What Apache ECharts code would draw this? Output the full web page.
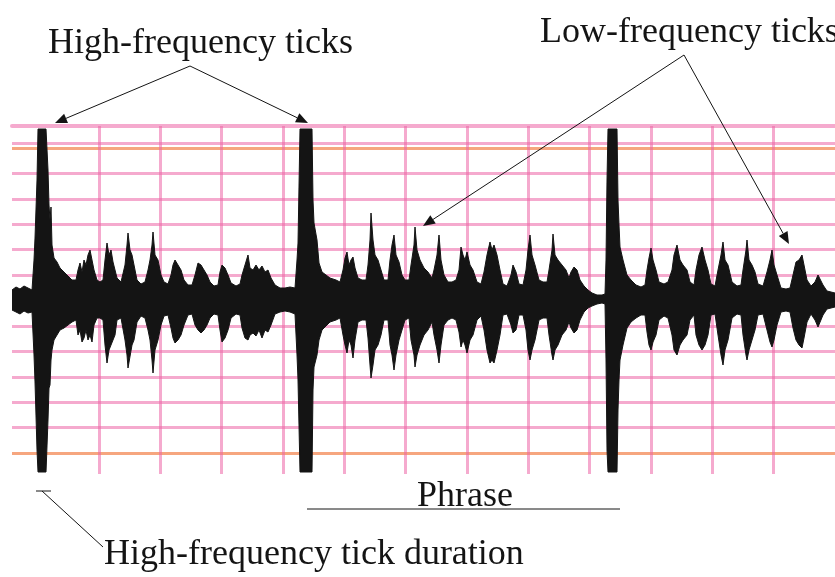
<!DOCTYPE html>
<html>
<head>
<meta charset="utf-8">
<script src="https://cdn.jsdelivr.net/npm/echarts@6/dist/echarts.min.js"></script>
<style>html,body{margin:0;padding:0;background:#fff}#c{width:835px;height:577px}</style>
</head>
<body>
<div id="c"></div>
<script>
// time (arbitrary units along the recording), upper and lower envelope of the waveform
const timeUnits = [12,16,20,24,28,32,34,35,37,38,46,48,49,50,51,52,54,57,60,64,68,72,76,78,80,82,84,86,88,90,92,94,97,100,103,105,107,109,111,113,115,117,121,125,127,128,130,132,134,137,141,145,148,150,152,153,155,158,161,164,168,171,173,175,178,181,184,188,192,195,198,201,204,207,210,214,218,220,222,225,228,231,236,240,242,245,248,250,253,256,259,262,265,268,271,275,280,285,290,295,297,298,300,312,313,314,317,319,322,326,330,336,340,343,345,347,349,351,353,355,358,362,366,368,370,371,373,375,378,381,384,388,390,392,394,396,399,402,405,409,411,414,415,417,420,424,428,432,434,437,439,441,444,448,452,456,459,461,463,465,467,470,473,477,481,484,487,490,492,494,497,500,503,507,511,513,516,519,523,526,528,530,532,535,539,543,547,549,552,553,555,558,562,566,569,571,574,577,580,584,588,592,597,602,605,606,607,608,617,618,619,620,623,627,631,636,641,645,647,649,651,653,656,659,664,668,672,674,677,680,683,687,690,694,696,699,702,705,708,711,715,718,721,723,725,728,732,737,741,743,746,747,749,752,755,758,763,767,770,772,774,777,781,786,790,793,796,799,802,804,807,811,815,818,820,823,827,831,835];
const upperEnv = [10,13,11,14,12,10,40,62,120,171,171,130,95,80,93,55,42,38,32,28,24,20,20,30,37,28,40,35,45,50,40,30,20,18,20,40,57,45,50,38,30,22,18,35,55,67,50,45,35,20,16,18,30,40,55,68,45,40,25,18,16,25,35,40,35,30,20,15,15,25,37,35,30,25,18,14,15,28,35,32,25,17,14,16,25,35,45,32,30,35,30,34,28,30,22,15,12,12,13,12,40,57,171,171,100,77,60,37,28,25,22,20,18,30,42,48,35,40,43,32,22,20,20,35,60,87,60,45,40,30,20,20,40,55,65,45,38,25,20,20,35,55,73,50,40,32,28,22,30,45,65,40,25,18,18,20,30,53,45,40,48,35,30,18,16,28,45,58,50,55,45,30,16,14,25,35,28,16,15,30,50,65,45,35,20,18,18,30,50,66,45,40,35,30,22,28,33,30,20,14,10,7,5,5,6,40,120,171,171,100,75,53,40,25,20,15,13,15,30,42,52,40,30,18,16,18,30,45,55,40,35,30,18,15,30,45,53,40,30,16,14,30,45,58,40,35,18,14,15,30,50,60,40,35,28,16,14,28,40,50,35,25,12,11,12,25,38,40,45,35,20,14,18,25,25,15,9,8,7];
const lowerEnv = [-10,-12,-14,-11,-13,-12,-55,-82,-150,-172,-172,-120,-88,-85,-60,-50,-40,-35,-30,-28,-25,-22,-20,-35,-30,-42,-38,-30,-40,-35,-42,-25,-18,-18,-20,-45,-63,-50,-45,-40,-35,-20,-18,-40,-55,-68,-70,-45,-40,-22,-16,-18,-30,-40,-60,-73,-50,-40,-25,-16,-15,-28,-38,-43,-40,-35,-25,-15,-14,-25,-30,-33,-30,-25,-18,-14,-15,-30,-42,-38,-30,-18,-14,-15,-28,-38,-40,-35,-33,-36,-30,-38,-30,-32,-25,-14,-12,-11,-12,-14,-55,-80,-172,-172,-90,-67,-55,-40,-30,-26,-22,-20,-18,-35,-45,-53,-40,-45,-58,-40,-22,-20,-20,-38,-65,-78,-65,-50,-45,-35,-20,-20,-45,-55,-70,-55,-40,-30,-20,-18,-40,-55,-67,-55,-45,-35,-30,-22,-35,-50,-63,-45,-25,-20,-18,-20,-32,-47,-40,-45,-53,-40,-35,-20,-16,-30,-50,-63,-60,-63,-50,-35,-15,-14,-25,-33,-30,-15,-15,-30,-50,-60,-50,-40,-20,-18,-18,-35,-55,-60,-50,-45,-35,-30,-22,-28,-33,-30,-20,-12,-8,-6,-4,-3,-4,-60,-150,-172,-172,-110,-80,-60,-45,-28,-22,-18,-15,-15,-32,-45,-50,-42,-35,-20,-16,-18,-35,-50,-55,-45,-40,-35,-20,-15,-35,-45,-50,-45,-35,-15,-14,-35,-55,-65,-50,-40,-18,-14,-15,-35,-55,-60,-50,-40,-30,-15,-14,-30,-42,-47,-40,-25,-12,-11,-12,-28,-40,-45,-48,-38,-22,-14,-20,-27,-25,-15,-9,-8,-7];
// chart-paper ruling (grid divisions)
const paperColumns = 12;
const paperRows = [-6, 6];

const upperData = timeUnits.map((t, i) => [t, upperEnv[i]]);
const lowerData = timeUnits.map((t, i) => [t, lowerEnv[i]]);

const PINK = 'rgba(236,100,165,0.55)';
const ORANGE = 'rgba(245,150,105,0.85)';
const INK = '#141414';
const FONT = '36px "Liberation Serif", "Times New Roman", serif';

function arrow(x1, y1, x2, y2) {
  const ang = Math.atan2(y2 - y1, x2 - x1);
  const L = 12, W = 5;
  const bx = x2 - L * Math.cos(ang), by = y2 - L * Math.sin(ang);
  const px = -Math.sin(ang) * W, py = Math.cos(ang) * W;
  return [
    {type: 'line', shape: {x1, y1, x2: bx, y2: by}, style: {stroke: INK, lineWidth: 1}, z: 100},
    {type: 'polygon', shape: {points: [[x2, y2], [bx + px, by + py], [bx - px, by - py]]}, style: {fill: INK}, z: 100}
  ];
}
function txt(s, x, y) {
  return {type: 'text', x, y, style: {text: s, font: FONT, fill: INK, textAlign: 'left', textVerticalAlign: 'middle'}, z: 100};
}

const chart = echarts.init(document.getElementById('c'), null, {renderer: 'canvas'});
chart.setOption({
  animation: false,
  backgroundColor: '#fff',
  grid: [
    {left: 12, right: 0, top: 126, bottom: 103},
    {left: 99, right: -1.3, top: 126, bottom: 103},
    {left: 12, right: 0, top: 148, bottom: 124}
  ],
  xAxis: [
    {gridIndex: 0, type: 'value', min: 12, max: 835, position: 'top', axisLine: {show: true, onZero: false, lineStyle: {color: PINK, width: 4}}, axisTick: {show: false}, axisLabel: {show: false}, splitLine: {show: false}},
    {gridIndex: 1, type: 'value', min: 0, max: paperColumns, interval: 1, axisLine: {show: false}, axisTick: {show: false}, axisLabel: {show: false},
      splitLine: {show: true, showMaxLine: false, lineStyle: {color: PINK, width: 3}}},
    {gridIndex: 2, type: 'value', min: 0, max: 1, show: false}
  ],
  yAxis: [
    {gridIndex: 0, type: 'value', min: -174, max: 174, show: false},
    {gridIndex: 1, type: 'value', min: 0, max: 1, show: false},
    {gridIndex: 2, type: 'value', min: paperRows[0], max: paperRows[1], interval: 1, axisLine: {show: false}, axisTick: {show: false}, axisLabel: {show: false},
      splitLine: {show: true, lineStyle: {width: 3, color: [ORANGE, PINK, PINK, PINK, PINK, PINK, PINK, PINK, PINK, PINK, PINK, PINK]}}}
  ],
  series: [
    {type: 'line', xAxisIndex: 0, yAxisIndex: 0, data: upperData, symbol: 'none', silent: true,
      lineStyle: {color: INK, width: 1}, areaStyle: {color: INK, opacity: 1},
      markLine: {silent: true, symbol: 'none', label: {show: false}, lineStyle: {color: PINK, width: 3, type: 'solid'}, data: [{yAxis: 157}], z: 0}},
    {type: 'line', xAxisIndex: 0, yAxisIndex: 0, data: lowerData, symbol: 'none', silent: true,
      lineStyle: {color: INK, width: 1}, areaStyle: {color: INK, opacity: 1}}
  ],
  graphic: [
    txt('High-frequency ticks', 48, 44),
    txt('Low-frequency ticks', 540, 33),
    txt('Phrase', 417, 497),
    txt('High-frequency tick duration', 104, 555),
    ...arrow(190, 66, 55, 123),
    ...arrow(190, 66, 308, 123),
    ...arrow(684, 55, 423, 226),
    ...arrow(684, 55, 789, 244),
    {type: 'line', shape: {x1: 307, y1: 509, x2: 620, y2: 509}, style: {stroke: INK, lineWidth: 1}, z: 100},
    {type: 'line', shape: {x1: 36, y1: 491, x2: 51, y2: 491}, style: {stroke: INK, lineWidth: 1}, z: 100},
    {type: 'line', shape: {x1: 42, y1: 491, x2: 103, y2: 547}, style: {stroke: INK, lineWidth: 1}, z: 100}
  ]
});
</script>
</body>
</html>
